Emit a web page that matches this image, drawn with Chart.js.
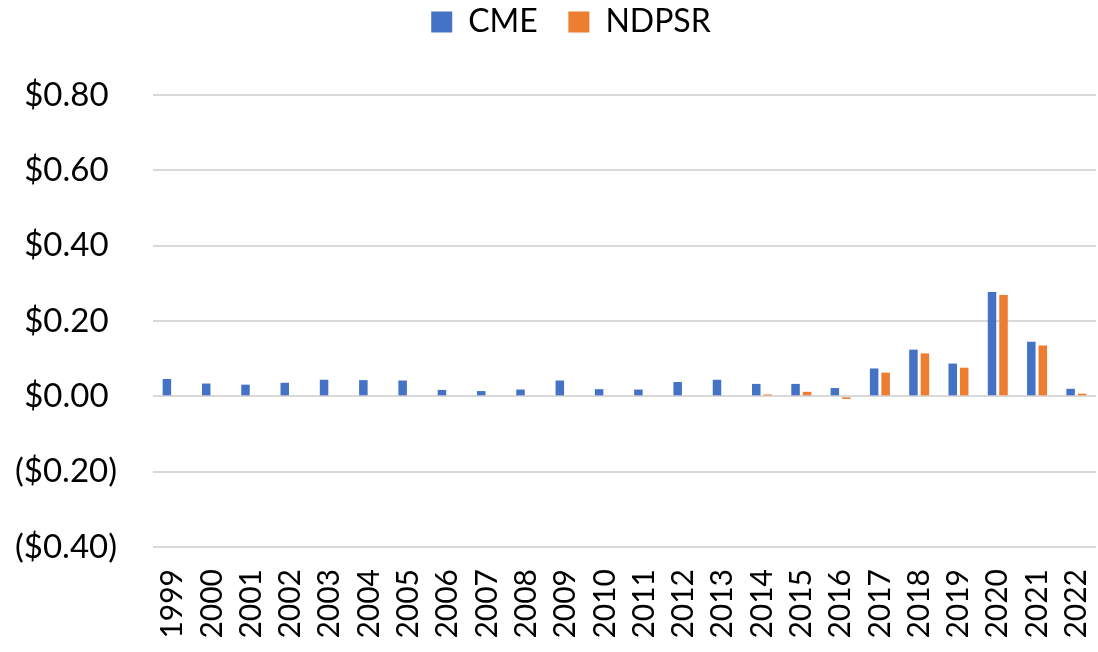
<!DOCTYPE html>
<html>
<head>
<meta charset="utf-8">
<script src="https://cdn.jsdelivr.net/npm/chart.js@4/dist/chart.umd.min.js"></script>
<style>
  html, body { margin: 0; padding: 0; background: #fff; }
  #wrap { width: 1098px; height: 652px; position: relative; }
</style>
</head>
<body>
<div id="wrap"><canvas id="c" width="1098" height="652"></canvas></div>
<script>
const years = ['1999','2000','2001','2002','2003','2004','2005','2006','2007','2008','2009','2010','2011','2012','2013','2014','2015','2016','2017','2018','2019','2020','2021','2022'];
const cme = [0.046,0.034,0.031,0.036,0.044,0.043,0.042,0.017,0.014,0.018,0.042,0.019,0.018,0.038,0.044,0.033,0.033,0.022,0.074,0.124,0.087,0.277,0.145,0.020];
const ndpsr = [null,null,null,null,null,null,null,null,null,null,null,null,null,null,null,0.005,0.012,-0.007,0.063,0.114,0.076,0.269,0.135,0.007];
const yTicks = [-0.4,-0.2,0,0.2,0.4,0.6,0.8];

const FONT = 'Lato, "Open Sans", sans-serif';

function fmt(v) {
  const s = '$' + Math.abs(v).toFixed(2);
  return v < -1e-9 ? '(' + s + ')' : s + ' ';
}

const legendSpace = {
  id: 'legendSpace',
  beforeInit(chart) {
    const lg = chart.legend;
    const origFit = lg.fit;
    lg.fit = function () {
      origFit.call(this);
      this.height += 47;
    };
    const origDraw = lg.draw;
    lg.draw = function () {
      const l = this.left, r = this.right;
      this.left += 23; this.right += 23;
      origDraw.apply(this, arguments);
      this.left = l; this.right = r;
    };
  }
};

new Chart(document.getElementById('c'), {
  type: 'bar',
  data: {
    labels: years,
    datasets: [
      { label: 'CME', data: cme, backgroundColor: '#4472C4', categoryPercentage: 0.585, barPercentage: 0.74 },
      { label: 'NDPSR', data: ndpsr, backgroundColor: '#ED7D31', categoryPercentage: 0.585, barPercentage: 0.74 }
    ]
  },
  options: {
    responsive: false,
    animation: false,
    layout: { padding: { top: 0, right: 2, left: 0, bottom: 0 } },
    plugins: {
      legend: {
        position: 'top',
        labels: {
          boxWidth: 21, boxHeight: 21, padding: 6,
          color: '#000',
          font: { family: FONT, size: 32 },
          generateLabels(chart) {
            const items = Chart.defaults.plugins.legend.labels.generateLabels(chart);
            items.forEach((it, i) => { if (i < items.length - 1) it.text = it.text + '   '; });
            return items;
          }
        }
      },
      tooltip: { enabled: false }
    },
    scales: {
      x: {
        grid: { display: false, drawTicks: false },
        border: { display: false },
        afterFit(axis) { axis.height = 105; axis.paddingRight = 0; axis.paddingLeft = 0; },
        ticks: {
          color: '#000',
          font: { family: FONT, size: 30 },
          minRotation: 90, maxRotation: 90,
          autoSkip: false,
          padding: 22
        }
      },
      y: {
        min: -0.4, max: 0.8,
        afterBuildTicks(axis) { axis.ticks = yTicks.map(v => ({ value: v })); },
        afterFit(axis) { axis.width = 153; },
        grid: { color: '#d9d9d9', lineWidth: 2, drawTicks: false },
        border: { display: false },
        ticks: {
          color: '#000',
          font: { family: FONT, size: 33 },
          padding: 36,
          callback: (v) => fmt(v)
        }
      }
    }
  },
  plugins: [legendSpace]
});
</script>
</body>
</html>
